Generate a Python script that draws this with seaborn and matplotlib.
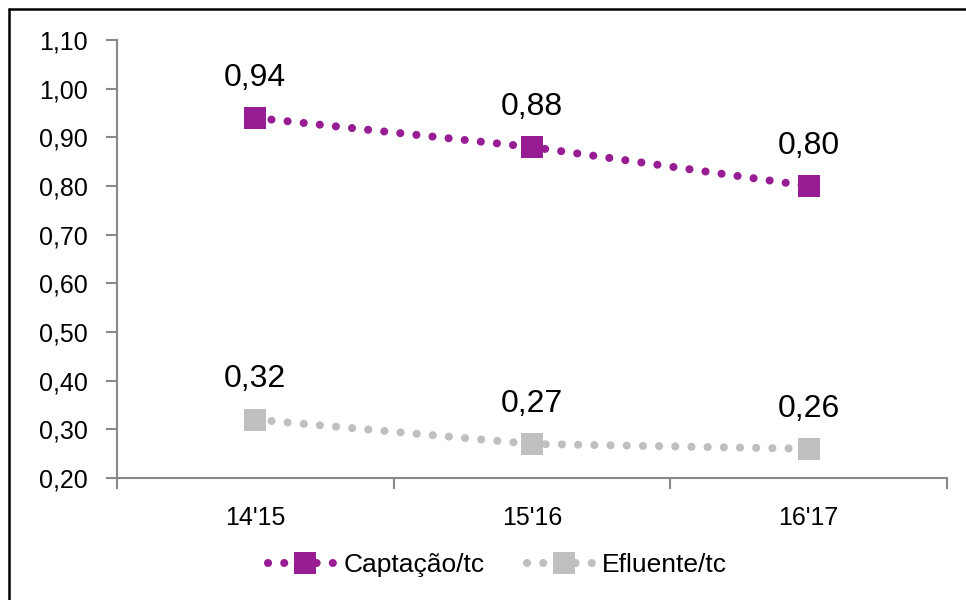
import matplotlib
matplotlib.use("Agg")
import matplotlib.pyplot as plt
import seaborn as sns
import pandas as pd
import numpy as np
from matplotlib.lines import Line2D

# data
periods = ["14'15", "15'16", "16'17"]
captacao = [0.94, 0.88, 0.80]
efluente = [0.32, 0.27, 0.26]
series_names = ["Captação/tc", "Efluente/tc"]
series_colors = ["#981C93", "#BFBFBF"]
y_ticks = [0.20, 0.30, 0.40, 0.50, 0.60, 0.70, 0.80, 0.90, 1.00, 1.10]

df = pd.DataFrame({
    "periodo": periods * 2,
    "valor": captacao + efluente,
    "serie": [series_names[0]] * 3 + [series_names[1]] * 3,
})

sns.set_style("white")
plt.rcParams["font.family"] = ["Liberation Sans", "DejaVu Sans"]
plt.rcParams["text.color"] = "black"
plt.rcParams["xtick.labelcolor"] = "black"
plt.rcParams["ytick.labelcolor"] = "black"

fig = plt.figure(figsize=(9.66, 6), dpi=100)
ax = fig.add_axes([117 / 966, 1 - 478 / 600, (947 - 117) / 966, (478 - 40) / 600])

dotted = (0, (0.01, 2.0))
for name, color in zip(series_names, series_colors):
    sub = df[df["serie"] == name]
    sns.lineplot(data=sub, x="periodo", y="valor", ax=ax, color=color,
                 linewidth=5.8, linestyle=dotted, dash_capstyle="round",
                 marker="s", markersize=16.5, markeredgewidth=0, label=name,
                 sort=False)
    for i, v in enumerate(sub["valor"]):
        ax.annotate(f"{v:.2f}".replace(".", ","), (i, v), xytext=(0, 29),
                    textcoords="offset points", ha="center", va="center",
                    fontsize=23, color="black")

ax.set_xlim(-0.5, 2.5)
ax.set_ylim(0.20, 1.10)
ax.set_yticks(y_ticks)
ax.set_yticklabels([f"{t:.2f}".replace(".", ",") for t in y_ticks])
ax.set_xticks(range(len(periods)))
ax.set_xticklabels(periods)
ax.set_xticks(np.arange(-0.5, len(periods), 1.0), minor=True)
ax.tick_params(axis="x", which="major", length=0, labelsize=18, pad=20,
               labelcolor="black")
ax.tick_params(axis="x", which="minor", length=8, width=1.5, color="#898989",
               direction="out", bottom=True)
ax.tick_params(axis="y", length=8, width=1.5, color="#898989", labelsize=18,
               pad=13, direction="out", left=True, labelcolor="black")
ax.set_xlabel("")
ax.set_ylabel("")
for side in ["top", "right"]:
    ax.spines[side].set_visible(False)
for side in ["left", "bottom"]:
    ax.spines[side].set_color("#898989")
    ax.spines[side].set_linewidth(1.5)

if ax.legend_:
    ax.legend_.remove()
handles = [ax.lines[0], ax.lines[1]]
leg = fig.legend(handles, series_names, loc="center", bbox_to_anchor=(0.515, 0.058),
                 ncol=2, frameon=False, fontsize=19, handlelength=2.8,
                 handletextpad=0.05, columnspacing=1.6, numpoints=1)
for t in leg.get_texts():
    t.set_color("black")

# outer chart border (left and top edges visible)
fig.add_artist(Line2D([8.5 / 966, 8.5 / 966], [0, 1 - 8.5 / 600], color="black",
                      linewidth=1.8, transform=fig.transFigure))
fig.add_artist(Line2D([8.5 / 966, 1], [1 - 8.5 / 600, 1 - 8.5 / 600], color="black",
                      linewidth=1.8, transform=fig.transFigure))

fig.savefig("out.png", dpi=100)
